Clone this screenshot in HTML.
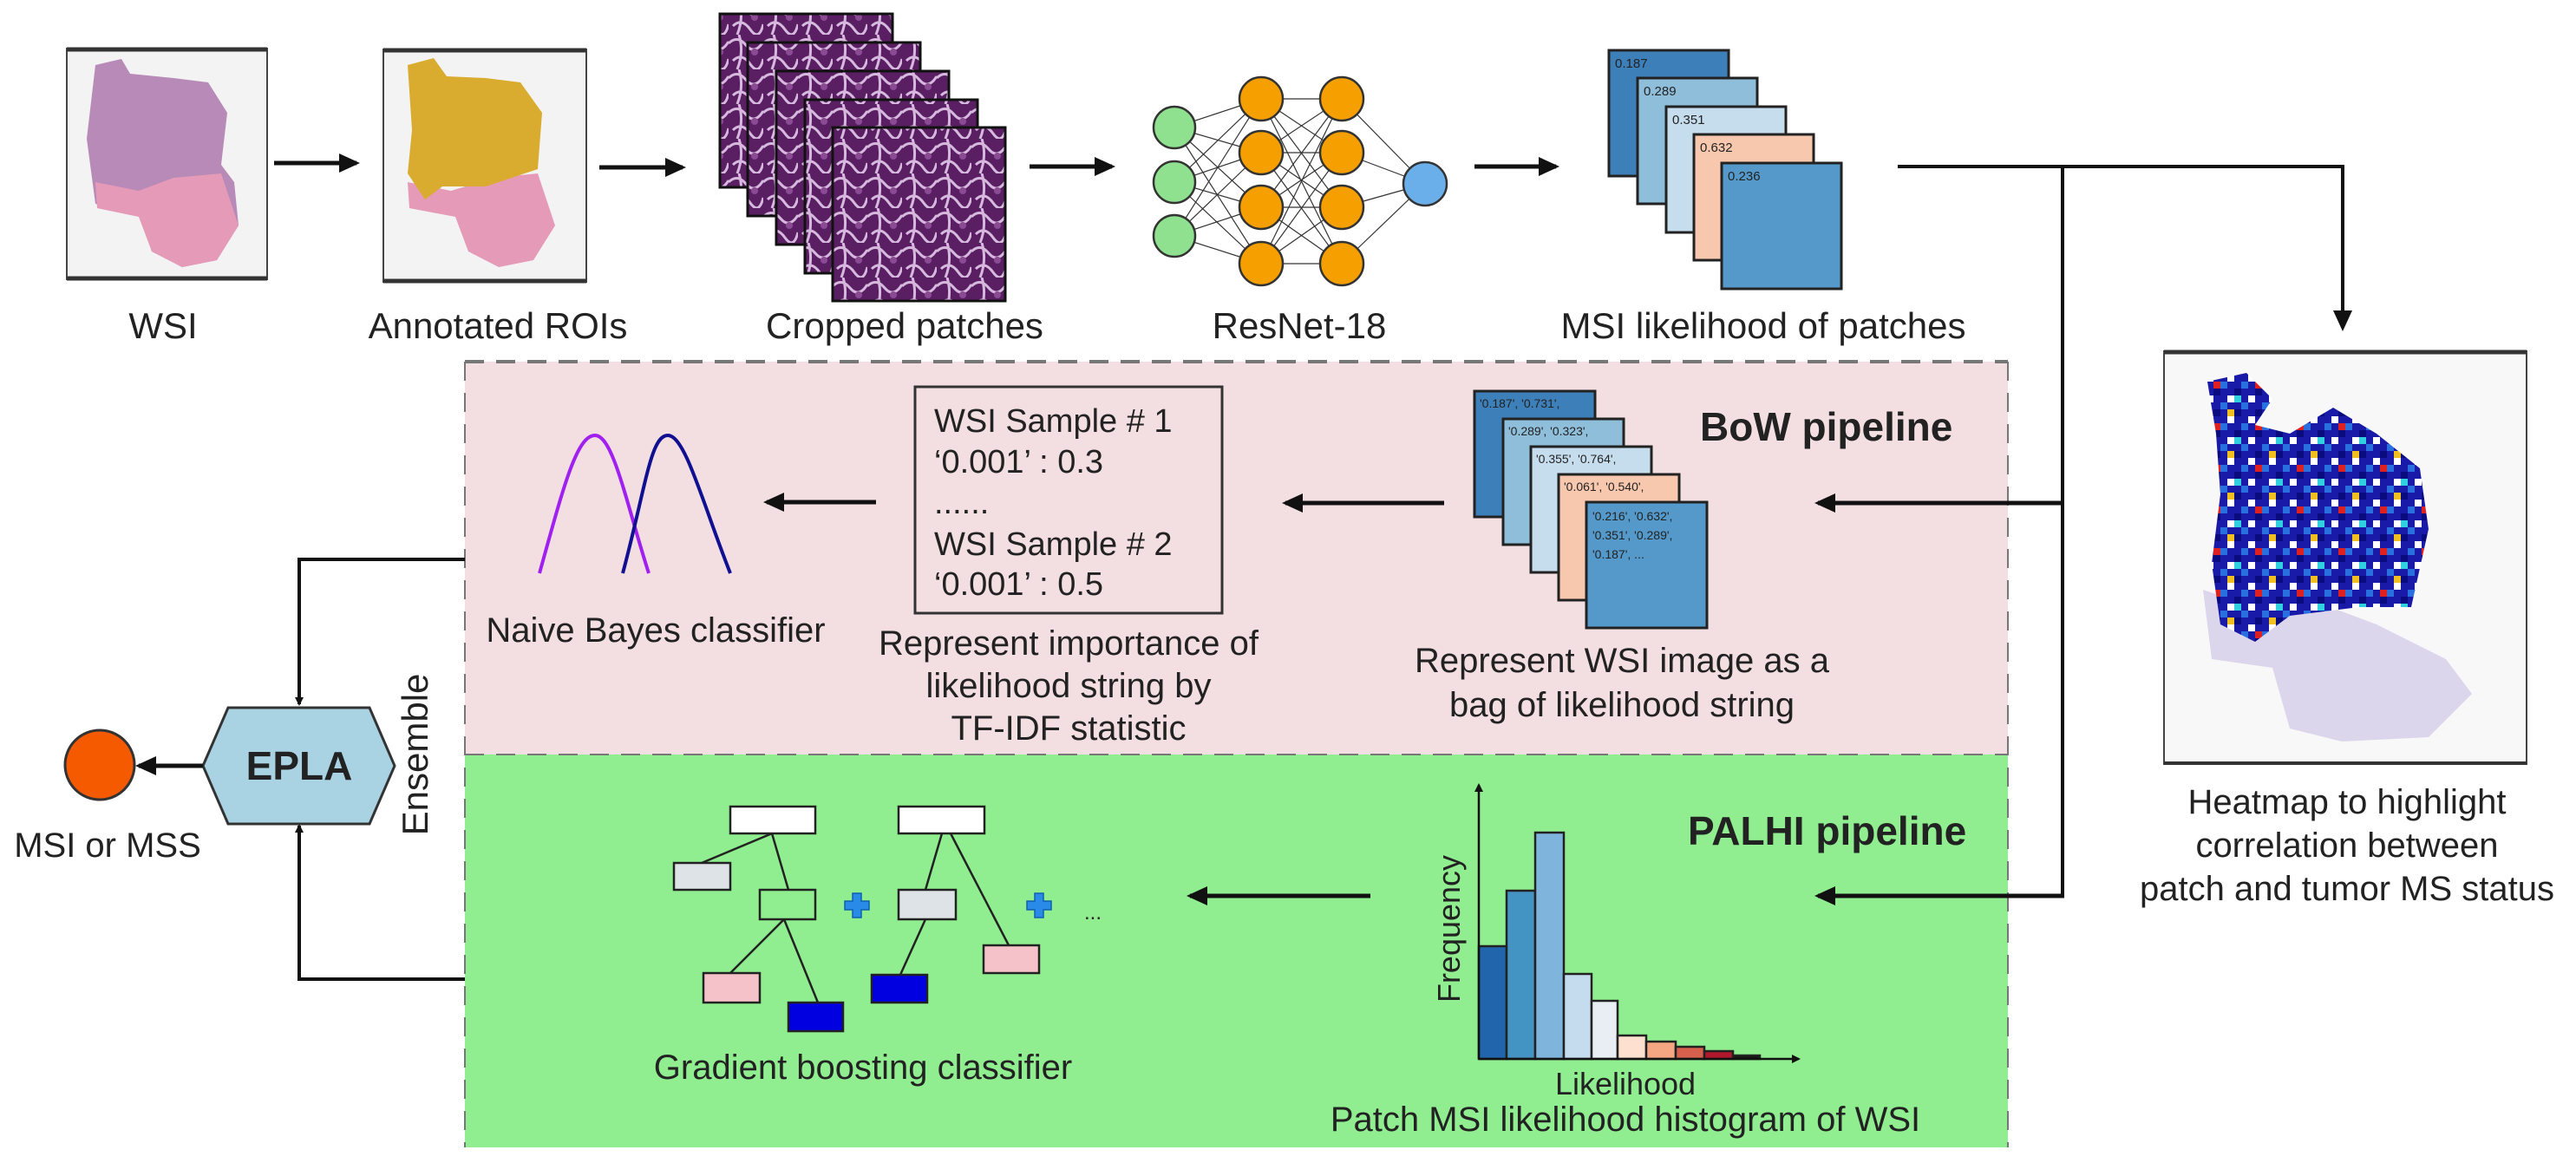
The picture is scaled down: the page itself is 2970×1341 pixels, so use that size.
<!DOCTYPE html>
<html><head><meta charset="utf-8"><style>
html,body{margin:0;padding:0;background:#fff}
svg{display:block}
text{font-family:"Liberation Sans",Arial,sans-serif;fill:#222}
</style></head><body>
<svg width="2970" height="1341" viewBox="0 0 2970 1341" xmlns="http://www.w3.org/2000/svg">
<defs>
<marker id="ah" markerWidth="10" markerHeight="10" refX="8" refY="5" orient="auto" markerUnits="userSpaceOnUse" viewBox="0 0 10 10">
<path d="M0,0 L10,5 L0,10 Z" fill="#111"/></marker>
<marker id="ahb" markerWidth="26" markerHeight="26" refX="20" refY="13" orient="auto" markerUnits="userSpaceOnUse" viewBox="0 0 26 26">
<path d="M0,2 L24,13 L0,24 Z" fill="#111"/></marker>
<pattern id="tis" width="40" height="40" patternUnits="userSpaceOnUse">
<rect width="40" height="40" fill="#5a1f63"/>
<path d="M0,10 Q10,0 20,12 T40,8 M5,30 Q15,20 25,34 T40,28 M12,0 Q18,20 10,40" stroke="#d7b9df" stroke-width="3" fill="none"/>
<circle cx="30" cy="20" r="4" fill="#8a4a94"/>
</pattern>
<pattern id="heat" width="24" height="24" patternUnits="userSpaceOnUse">
<rect width="24" height="24" fill="#1a1aa8"/>
<rect x="0" y="0" width="8" height="8" fill="#ffffff"/>
<rect x="16" y="8" width="8" height="8" fill="#2a6fe0"/>
<rect x="8" y="16" width="8" height="8" fill="#0b0b80"/>
</pattern>
<pattern id="heat2" width="48" height="48" patternUnits="userSpaceOnUse">
<rect width="48" height="48" fill="url(#heat)"/>
<rect x="8" y="8" width="8" height="8" fill="#e02020"/>
<rect x="32" y="24" width="8" height="8" fill="#30d0e0"/>
<rect x="24" y="40" width="8" height="8" fill="#f0c020"/>
</pattern>
</defs>

<!-- WSI -->
<rect x="77" y="56" width="231" height="266" fill="#f3f3f3" stroke="#444" stroke-width="2"/>
<line x1="77" y1="57" x2="308" y2="57" stroke="#333" stroke-width="5"/>
<line x1="77" y1="321" x2="308" y2="321" stroke="#333" stroke-width="5"/>
<path d="M110,75 L140,68 L150,85 L200,90 L240,95 L262,130 L255,190 L270,210 L275,260 L250,300 L210,308 L175,290 L160,245 L110,235 L100,160 Z" fill="#b88ab8"/>
<path d="M110,210 L160,220 L200,205 L255,200 L275,260 L250,300 L210,308 L175,290 L160,250 L112,240 Z" fill="#e59ab8"/>
<!-- Annotated -->
<rect x="442" y="57" width="234" height="268" fill="#f3f3f3" stroke="#444" stroke-width="2"/>
<line x1="442" y1="58" x2="676" y2="58" stroke="#333" stroke-width="5"/>
<line x1="442" y1="324" x2="676" y2="324" stroke="#333" stroke-width="5"/>
<path d="M470,210 L520,220 L570,205 L620,200 L640,260 L615,300 L575,308 L540,290 L525,250 L472,240 Z" fill="#e59ab8"/>
<path d="M470,75 L500,67 L515,88 L560,90 L600,95 L625,130 L620,195 L560,215 L510,215 L490,230 L470,200 L475,150 Z" fill="#d9ac30"/>

<line x1="316" y1="188" x2="411" y2="188" stroke="#111" stroke-width="5" marker-end="url(#ahb)"/>
<line x1="691" y1="193" x2="787" y2="193" stroke="#111" stroke-width="5" marker-end="url(#ahb)"/>

<!-- patches -->
<g stroke="#111" stroke-width="3">
<rect x="830" y="16" width="199" height="200" fill="url(#tis)"/>
<rect x="862" y="49" width="199" height="200" fill="url(#tis)"/>
<rect x="895" y="82" width="199" height="200" fill="url(#tis)"/>
<rect x="928" y="115" width="199" height="200" fill="url(#tis)"/>
<rect x="960" y="147" width="199" height="200" fill="url(#tis)"/>
</g>
<line x1="1187" y1="192" x2="1282" y2="192" stroke="#111" stroke-width="5" marker-end="url(#ahb)"/>

<!-- NN -->
<g stroke="#333" stroke-width="1.2">
<g id="l1">
<line x1="1354" y1="147" x2="1454" y2="114"/><line x1="1354" y1="147" x2="1454" y2="176"/><line x1="1354" y1="147" x2="1454" y2="239"/><line x1="1354" y1="147" x2="1454" y2="304"/>
<line x1="1354" y1="210" x2="1454" y2="114"/><line x1="1354" y1="210" x2="1454" y2="176"/><line x1="1354" y1="210" x2="1454" y2="239"/><line x1="1354" y1="210" x2="1454" y2="304"/>
<line x1="1354" y1="272" x2="1454" y2="114"/><line x1="1354" y1="272" x2="1454" y2="176"/><line x1="1354" y1="272" x2="1454" y2="239"/><line x1="1354" y1="272" x2="1454" y2="304"/>
</g>
<line x1="1454" y1="114" x2="1547" y2="114"/><line x1="1454" y1="114" x2="1547" y2="176"/><line x1="1454" y1="114" x2="1547" y2="239"/><line x1="1454" y1="114" x2="1547" y2="304"/>
<line x1="1454" y1="176" x2="1547" y2="114"/><line x1="1454" y1="176" x2="1547" y2="176"/><line x1="1454" y1="176" x2="1547" y2="239"/><line x1="1454" y1="176" x2="1547" y2="304"/>
<line x1="1454" y1="239" x2="1547" y2="114"/><line x1="1454" y1="239" x2="1547" y2="176"/><line x1="1454" y1="239" x2="1547" y2="239"/><line x1="1454" y1="239" x2="1547" y2="304"/>
<line x1="1454" y1="304" x2="1547" y2="114"/><line x1="1454" y1="304" x2="1547" y2="176"/><line x1="1454" y1="304" x2="1547" y2="239"/><line x1="1454" y1="304" x2="1547" y2="304"/>
<line x1="1547" y1="114" x2="1643" y2="212"/><line x1="1547" y1="176" x2="1643" y2="212"/><line x1="1547" y1="239" x2="1643" y2="212"/><line x1="1547" y1="304" x2="1643" y2="212"/>
</g>
<g stroke="#333" stroke-width="2.5">
<circle cx="1354" cy="147" r="24" fill="#8fe08f"/><circle cx="1354" cy="210" r="24" fill="#8fe08f"/><circle cx="1354" cy="272" r="24" fill="#8fe08f"/>
<circle cx="1454" cy="114" r="25" fill="#f5a000"/><circle cx="1454" cy="176" r="25" fill="#f5a000"/><circle cx="1454" cy="239" r="25" fill="#f5a000"/><circle cx="1454" cy="304" r="25" fill="#f5a000"/>
<circle cx="1547" cy="114" r="25" fill="#f5a000"/><circle cx="1547" cy="176" r="25" fill="#f5a000"/><circle cx="1547" cy="239" r="25" fill="#f5a000"/><circle cx="1547" cy="304" r="25" fill="#f5a000"/>
<circle cx="1643" cy="212" r="25" fill="#6aaeea"/>
</g>
<line x1="1700" y1="192" x2="1794" y2="192" stroke="#111" stroke-width="5" marker-end="url(#ahb)"/>

<!-- MSI stack -->
<g stroke="#222" stroke-width="3" font-size="16">
<rect x="1855" y="58" width="138" height="145" fill="#3d7fb8"/>
<rect x="1888" y="90" width="138" height="145" fill="#8fbedb"/>
<rect x="1921" y="123" width="138" height="145" fill="#c6ddee"/>
<rect x="1953" y="155" width="138" height="145" fill="#f8c8ae"/>
<rect x="1985" y="188" width="138" height="145" fill="#5499c9"/>
</g>
<g font-size="15"><text x="1862" y="78">0.187</text><text x="1895" y="110">0.289</text><text x="1928" y="143">0.351</text><text x="1960" y="175">0.632</text><text x="1992" y="208">0.236</text></g>

<!-- top labels -->
<g font-size="42" text-anchor="middle">
<text x="188" y="390">WSI</text>
<text x="574" y="390">Annotated ROIs</text>
<text x="1043" y="390">Cropped patches</text>
<text x="1498" y="390">ResNet-18</text>
<text x="2033" y="390">MSI likelihood of patches</text>
</g>

<!-- panels -->
<rect x="536" y="417" width="1779" height="453" fill="#f3dfe1"/>
<rect x="536" y="870" width="1779" height="453" fill="#90ee90"/>
<g stroke="#777" stroke-width="4" stroke-dasharray="22,14" fill="none">
<line x1="536" y1="417" x2="2315" y2="417"/>
<line x1="536" y1="870" x2="2315" y2="870" stroke-width="2"/>
<line x1="536" y1="417" x2="536" y2="1323" stroke-width="2"/>
<line x1="2315" y1="417" x2="2315" y2="1323" stroke-width="2"/>
</g>

<!-- connectors right -->
<polyline points="2188,192 2701,192 2701,378" fill="none" stroke="#111" stroke-width="4" marker-end="url(#ahb)"/>
<line x1="2378" y1="192" x2="2378" y2="1033" stroke="#111" stroke-width="4"/>
<line x1="2380" y1="580" x2="2096" y2="580" stroke="#111" stroke-width="5" marker-end="url(#ahb)"/>
<line x1="2380" y1="1033" x2="2096" y2="1033" stroke="#111" stroke-width="5" marker-end="url(#ahb)"/>

<!-- heatmap -->
<rect x="2495" y="405" width="418" height="476" fill="#f8f8f8" stroke="#444" stroke-width="2"/>
<line x1="2495" y1="406" x2="2913" y2="406" stroke="#333" stroke-width="5"/>
<line x1="2495" y1="880" x2="2913" y2="880" stroke="#333" stroke-width="4"/>
<path d="M2540,680 L2600,700 L2660,690 L2740,720 L2820,760 L2850,800 L2800,850 L2700,855 L2640,840 L2620,770 L2550,760 Z" fill="#dcd6ec"/>
<path d="M2545,440 L2590,430 L2620,460 L2600,490 L2640,500 L2690,470 L2740,500 L2790,540 L2800,610 L2780,700 L2720,700 L2640,710 L2600,740 L2560,720 L2550,650 L2560,570 L2555,500 Z" fill="url(#heat2)"/>
<g font-size="40" text-anchor="middle"><text x="2706" y="938">Heatmap to highlight</text><text x="2706" y="988">correlation between</text><text x="2706" y="1038">patch and tumor MS status</text></g>

<!-- BoW -->
<text x="1960" y="508" font-size="46" font-weight="bold">BoW pipeline</text>
<g stroke="#222" stroke-width="3">
<rect x="1700" y="451" width="139" height="145" fill="#3d7fb8"/>
<rect x="1733" y="483" width="139" height="145" fill="#8fbedb"/>
<rect x="1765" y="515" width="139" height="145" fill="#c6ddee"/>
<rect x="1797" y="547" width="139" height="145" fill="#f8c8ae"/>
<rect x="1829" y="579" width="139" height="145" fill="#5499c9"/>
</g>
<g font-size="14"><text x="1706" y="470">'0.187', '0.731',</text><text x="1739" y="502">'0.289', '0.323',</text><text x="1771" y="534">'0.355', '0.764',</text><text x="1803" y="566">'0.061', '0.540',</text>
<text x="1836" y="600">'0.216', '0.632',</text><text x="1836" y="622">'0.351', '0.289',</text><text x="1836" y="644">'0.187', ...</text></g>
<g font-size="40" text-anchor="middle"><text x="1870" y="775">Represent WSI image as a</text><text x="1870" y="826">bag of likelihood string</text></g>
<line x1="1665" y1="580" x2="1482" y2="580" stroke="#111" stroke-width="5" marker-end="url(#ahb)"/>

<!-- TF-IDF box -->
<rect x="1055" y="446" width="354" height="261" fill="none" stroke="#333" stroke-width="3"/>
<g font-size="38"><text x="1077" y="498">WSI Sample # 1</text><text x="1077" y="545">‘0.001’ : 0.3</text><text x="1077" y="592">......</text><text x="1077" y="640">WSI Sample # 2</text><text x="1077" y="686">‘0.001’ : 0.5</text></g>
<g font-size="40" text-anchor="middle"><text x="1232" y="755">Represent importance of</text><text x="1232" y="804">likelihood string by</text><text x="1232" y="853">TF-IDF statistic</text></g>
<line x1="1010" y1="579" x2="884" y2="579" stroke="#111" stroke-width="5" marker-end="url(#ahb)"/>

<!-- naive bayes -->
<path d="M622,661 C650,560 665,502 686,502 C707,502 722,580 748,661" fill="none" stroke="#a020f0" stroke-width="4"/>
<path d="M718,661 C745,560 750,502 770,502 C790,502 810,580 842,661" fill="none" stroke="#101090" stroke-width="4"/>
<text x="756" y="740" font-size="40" text-anchor="middle">Naive Bayes classifier</text>

<!-- left connectors & EPLA -->
<polyline points="536,645 345,645 345,812" fill="none" stroke="#111" stroke-width="4" marker-end="url(#ah)"/>
<polyline points="536,1129 345,1129 345,952" fill="none" stroke="#111" stroke-width="4" marker-end="url(#ah)"/>
<path d="M263,816 L426,816 L455,883 L426,950 L263,950 L234,883 Z" fill="#a9d3e3" stroke="#333" stroke-width="3"/>
<text x="345" y="899" font-size="46" font-weight="bold" text-anchor="middle">EPLA</text>
<text transform="translate(493,870) rotate(-90)" font-size="42" text-anchor="middle">Ensemble</text>
<line x1="234" y1="883" x2="160" y2="883" stroke="#111" stroke-width="5" marker-end="url(#ahb)"/>
<circle cx="115" cy="882" r="40" fill="#f55a00" stroke="#333" stroke-width="3"/>
<text x="124" y="988" font-size="40" text-anchor="middle">MSI or MSS</text>

<!-- trees -->
<g stroke="#222" stroke-width="2.5">
<line x1="890" y1="961" x2="809" y2="995"/><line x1="890" y1="961" x2="909" y2="1026"/>
<line x1="904" y1="1060" x2="842" y2="1122"/><line x1="904" y1="1060" x2="943" y2="1156"/>
<line x1="1086" y1="961" x2="1067" y2="1026"/><line x1="1096" y1="961" x2="1163" y2="1090"/>
<line x1="1067" y1="1060" x2="1038" y2="1124"/>
<rect x="842" y="930" width="98" height="31" fill="#fff"/>
<rect x="777" y="995" width="65" height="31" fill="#dde3e6"/>
<rect x="876" y="1026" width="64" height="34" fill="#90ee90"/>
<rect x="811" y="1122" width="65" height="34" fill="#f4c2c8"/>
<rect x="909" y="1156" width="63" height="33" fill="#0000e0"/>
<rect x="1036" y="930" width="99" height="31" fill="#fff"/>
<rect x="1036" y="1026" width="66" height="34" fill="#dde3e6"/>
<rect x="1134" y="1090" width="64" height="32" fill="#f4c2c8"/>
<rect x="1005" y="1124" width="64" height="32" fill="#0000e0"/>
</g>
<g fill="#2a8ae8" stroke="#1060b0" stroke-width="1.5">
<path d="M983,1030 h10 v9 h9 v10 h-9 v9 h-10 v-9 h-9 v-10 h9 z"/>
<path d="M1193,1030 h10 v9 h9 v10 h-9 v9 h-10 v-9 h-9 v-10 h9 z"/>
</g>
<text x="1250" y="1060" font-size="24">...</text>
<text x="995" y="1244" font-size="40" text-anchor="middle">Gradient boosting classifier</text>
<line x1="1580" y1="1033" x2="1372" y2="1033" stroke="#111" stroke-width="5" marker-end="url(#ahb)"/>

<!-- PALHI -->
<text x="1946" y="974" font-size="46" font-weight="bold">PALHI pipeline</text>
<g stroke="#222" stroke-width="2.5">
<rect x="1705" y="1091" width="32" height="130" fill="#2166ac"/>
<rect x="1737" y="1027" width="33" height="194" fill="#4393c3"/>
<rect x="1770" y="960" width="33" height="261" fill="#7fb5dc"/>
<rect x="1803" y="1123" width="32" height="98" fill="#c4dcee"/>
<rect x="1835" y="1154" width="30" height="67" fill="#e8eef4"/>
<rect x="1865" y="1194" width="33" height="27" fill="#fde0d0"/>
<rect x="1898" y="1201" width="34" height="20" fill="#f4a582"/>
<rect x="1932" y="1207" width="33" height="14" fill="#d6604d"/>
<rect x="1965" y="1212" width="33" height="9" fill="#b2182b"/>
<rect x="1998" y="1217" width="31" height="4" fill="#111"/>
</g>
<line x1="1705" y1="1221" x2="1705" y2="905" stroke="#111" stroke-width="2.5" marker-end="url(#ah)"/>
<line x1="1705" y1="1221" x2="2074" y2="1221" stroke="#111" stroke-width="2.5" marker-end="url(#ah)"/>
<text transform="translate(1683,1071) rotate(-90)" font-size="36" text-anchor="middle">Frequency</text>
<text x="1874" y="1262" font-size="36" text-anchor="middle">Likelihood</text>
<text x="1874" y="1304" font-size="40" text-anchor="middle">Patch MSI likelihood histogram of WSI</text>
</svg>
</body></html>
